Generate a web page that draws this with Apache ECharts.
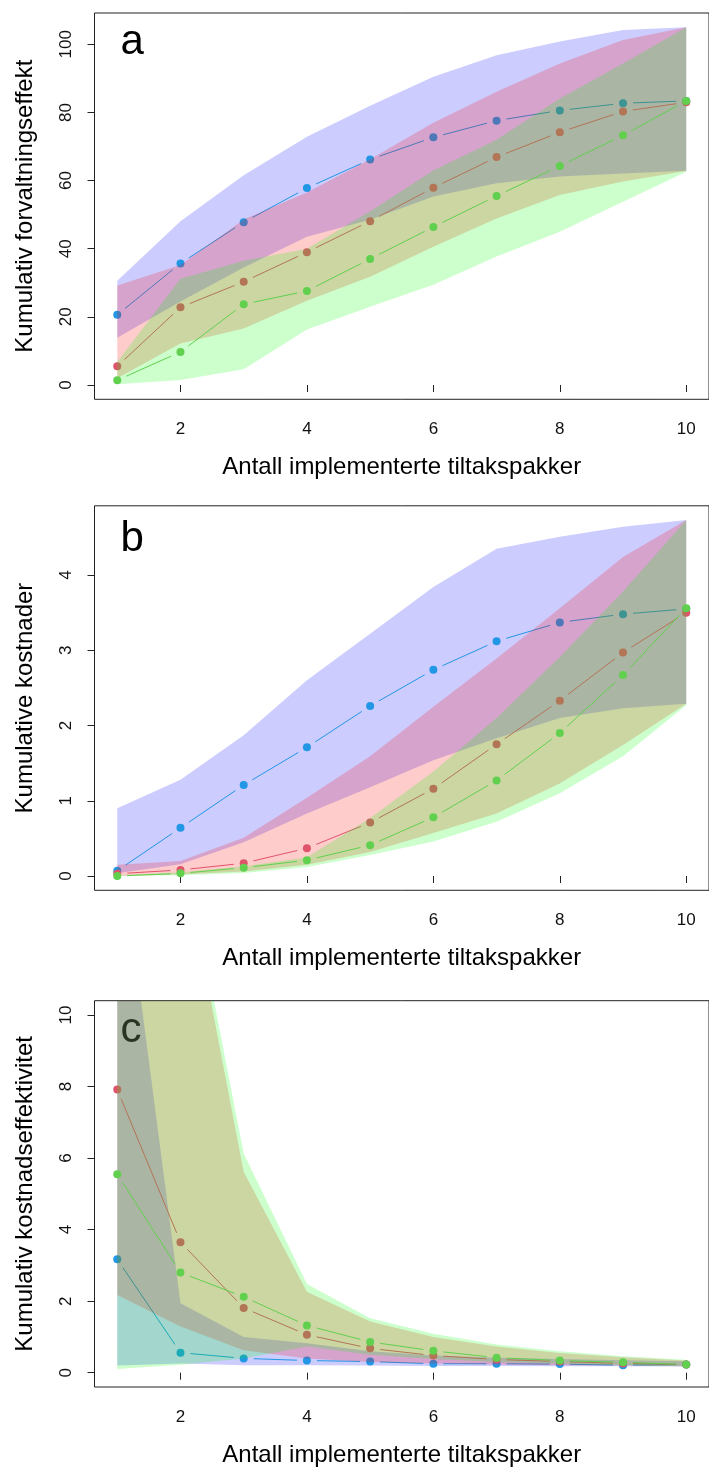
<!DOCTYPE html>
<html><head><meta charset="utf-8">
<script src="https://cdn.jsdelivr.net/npm/echarts@6/dist/echarts.min.js"></script>
<style>html,body{margin:0;padding:0;background:#fff}#c{width:709px;height:1468px}</style>
</head><body><div id="c"></div>
<script>
// ---- data ----
const xs = [1,2,3,4,5,6,7,8,9,10];
const xTicks = [2,4,6,8,10];

// Panel a: Kumulativ forvaltningseffekt
const aTicks = [0,20,40,60,80,100];
const aBlue    = [20.6,35.7,47.8,57.8,66.2,72.7,77.6,80.6,82.7,83.4];
const aBlueHi  = [30.6,48.1,61.6,72.9,82.0,90.5,96.8,100.8,104.2,105.0];
const aBlueLo  = [13.9,24.5,34.5,43.5,48.5,55.3,59.2,61.2,62.1,62.9];
const aRed     = [5.5,22.8,30.3,39.0,48.1,57.9,66.9,74.2,80.3,83.0];
const aRedHi   = [29.2,35.2,48.6,56.5,66.3,77.0,86.1,94.4,101.3,105.0];
const aRedLo   = [2.0,12.2,16.6,24.7,31.8,40.6,48.9,55.8,59.7,62.8];
const aGreen   = [1.4,9.7,23.7,27.6,37.0,46.4,55.5,64.3,73.3,83.4];
const aGreenHi = [6.8,31.2,36.5,40.0,51.0,63.0,72.0,84.1,94.4,105.0];
const aGreenLo = [0.2,1.5,4.6,16.3,23.0,29.4,37.7,45.0,53.8,62.6];

// Panel b: Kumulative kostnader
const bTicks = [0,1,2,3,4];
const bBlue    = [0.07,0.64,1.21,1.71,2.26,2.74,3.12,3.37,3.48,3.55];
const bBlueHi  = [0.90,1.28,1.87,2.60,3.22,3.84,4.35,4.51,4.64,4.73];
const bBlueLo  = [0.035,0.155,0.45,0.83,1.18,1.54,1.83,2.10,2.23,2.29];
const bRed     = [0.03,0.08,0.17,0.37,0.71,1.16,1.75,2.33,2.97,3.50];
const bRedHi   = [0.15,0.20,0.51,1.04,1.59,2.25,2.89,3.56,4.24,4.73];
const bRedLo   = [0.0,0.02,0.06,0.15,0.32,0.57,0.83,1.23,1.74,2.29];
const bGreen   = [0.0,0.035,0.11,0.21,0.41,0.78,1.27,1.90,2.67,3.56];
const bGreenHi = [0.01,0.05,0.13,0.25,0.77,1.39,2.10,2.91,3.78,4.73];
const bGreenLo = [0.0,0.01,0.04,0.12,0.28,0.46,0.72,1.10,1.59,2.27];

// Panel c: Kumulativ kostnadseffektivitet
const cTicks = [0,2,4,6,8,10];
const cBlue    = [3.17,0.56,0.40,0.34,0.31,0.25,0.25,0.24,0.21,0.23];
const cBlueHi  = [15.5,1.94,1.00,0.82,0.60,0.48,0.42,0.38,0.35,0.32];
const cBlueLo  = [0.20,0.26,0.21,0.21,0.20,0.19,0.19,0.18,0.18,0.17];
const cRed     = [7.92,3.65,1.81,1.06,0.68,0.48,0.37,0.31,0.26,0.23];
const cRedHi   = [18.0,14.8,5.62,2.26,1.43,1.00,0.73,0.55,0.43,0.34];
const cRedLo   = [2.17,1.29,0.63,0.40,0.30,0.26,0.23,0.21,0.20,0.18];
const cGreen   = [5.55,2.80,2.12,1.32,0.86,0.61,0.42,0.34,0.29,0.23];
const cGreenHi = [18.5,15.2,6.13,2.48,1.52,1.09,0.79,0.60,0.46,0.36];
const cGreenLo = [0.10,0.22,0.40,0.73,0.50,0.38,0.30,0.25,0.21,0.18];

const xTitle = 'Antall implementerte tiltakspakker';
const yTitles = ['Kumulativ forvaltningseffekt','Kumulative kostnader','Kumulativ kostnadseffektivitet'];
const letters = ['a','b','c'];

// ---- styling ----
const FONT = '"Liberation Sans", Arial, sans-serif';
const COL = {blue:'#2297E6', red:'#DF536B', green:'#61D04F'};
const BAND = {blue:'#0000FF', red:'#FF0000', green:'#00FF00'};
const GAP = 10;

const panels = [
  {ticks:aTicks, min:-4.2, max:109.2, top:13, height:386.3,
   s:[['blue',aBlue,aBlueLo,aBlueHi],['red',aRed,aRedLo,aRedHi],['green',aGreen,aGreenLo,aGreenHi]], ly:42.4},
  {ticks:bTicks, min:-0.19, max:4.92, top:505.8, height:384.5,
   s:[['blue',bBlue,bBlueLo,bBlueHi],['red',bRed,bRedLo,bRedHi],['green',bGreen,bGreenLo,bGreenHi]], ly:539.7},
  {ticks:cTicks, min:-0.4, max:10.4, top:1000.7, height:386.3,
   s:[['blue',cBlue,cBlueLo,cBlueHi],['red',cRed,cRedLo,cRedHi],['green',cGreen,cGreenLo,cGreenHi]], ly:1030.4}
];

function bandRender(color){
  return (params, api)=>{
    if (params.dataIndexInside !== 0) return null;
    const n = params.dataInsideLength;
    const up=[], dn=[];
    for (let k=0;k<n;k++){
      const x = api.value(0,k);
      up.push(api.coord([x, api.value(2,k)]));
      dn.push(api.coord([x, api.value(1,k)]));
    }
    const pts = up.concat(dn.reverse());
    const cs = params.coordSys;
    return {type:'polygon', shape:{points:pts},
      style:{fill:color, opacity:0.2, stroke:null},
      clipPath:{type:'rect', shape:{x:cs.x, y:cs.y, width:cs.width, height:cs.height}}};
  };
}

const grid=[], xAxis=[], yAxis=[], series=[], graphic=[];
panels.forEach((p,i)=>{
  grid.push({left:94.5, top:p.top, width:621, height:p.height, show:true,
    borderColor:'#222', borderWidth:1, backgroundColor:'transparent', containLabel:false});
  xAxis.push({type:'value', gridIndex:i, min:0.64, max:10.36,
    splitLine:{show:false}, axisLine:{show:false},
    axisTick:{show:true, length:7, customValues:xTicks, lineStyle:{color:'#222',width:1}},
    axisLabel:{customValues:xTicks, fontSize:17, color:'#111', margin:22, fontFamily:FONT},
    name:xTitle, nameLocation:'middle', nameGap:56,
    nameTextStyle:{fontSize:24, color:'#000', fontFamily:FONT}});
  yAxis.push({type:'value', gridIndex:i, min:p.min, max:p.max,
    splitLine:{show:false}, axisLine:{show:false},
    axisTick:{show:true, length:7, customValues:p.ticks, lineStyle:{color:'#222',width:1}},
    axisLabel:{customValues:p.ticks, fontSize:17, color:'#111', margin:20, rotate:90, fontFamily:FONT},
    name:yTitles[i], nameLocation:'middle', nameGap:57,
    nameTextStyle:{fontSize:24, color:'#000', fontFamily:FONT}});
  graphic.push({type:'text', x:120.5, y:p.ly, z:1,
    style:{text:letters[i], fontSize:42, fontFamily:FONT, fill:'#000', verticalAlign:'middle', align:'left'}});
  let z = 2;
  p.s.forEach(([c, mean, lo, hi])=>{
    series.push({type:'custom', xAxisIndex:i, yAxisIndex:i, z:z, silent:true, clip:true,
      encode:{x:0, y:[1,2]}, data:xs.map((x,k)=>[x, lo[k], hi[k]]),
      renderItem:bandRender(BAND[c])});
    z++;
    const segs=[];
    for(let k=0;k<xs.length-1;k++) segs.push([xs[k],mean[k],xs[k+1],mean[k+1]]);
    series.push({type:'custom', xAxisIndex:i, yAxisIndex:i, z:z, silent:true,
      encode:{x:[0,2], y:[1,3]}, data:segs,
      renderItem:(params, api)=>{
        const a=api.coord([api.value(0),api.value(1)]);
        const b=api.coord([api.value(2),api.value(3)]);
        const dx=b[0]-a[0], dy=b[1]-a[1], L=Math.hypot(dx,dy);
        if(L<=2*GAP) return null;
        const ux=dx/L, uy=dy/L;
        return {type:'line', shape:{x1:a[0]+ux*GAP, y1:a[1]+uy*GAP, x2:b[0]-ux*GAP, y2:b[1]-uy*GAP},
          style:{stroke:COL[c], lineWidth:1}};
      }});
    series.push({type:'scatter', xAxisIndex:i, yAxisIndex:i, z:z, silent:true,
      symbol:'circle', symbolSize:8, itemStyle:{color:COL[c], opacity:1},
      data:xs.map((x,k)=>[x, mean[k]])});
    z++;
  });
});

const chart = echarts.init(document.getElementById('c'), null, {renderer:'canvas'});
chart.setOption({animation:false, backgroundColor:'#fff', grid, xAxis, yAxis, series, graphic});
</script></body></html>
